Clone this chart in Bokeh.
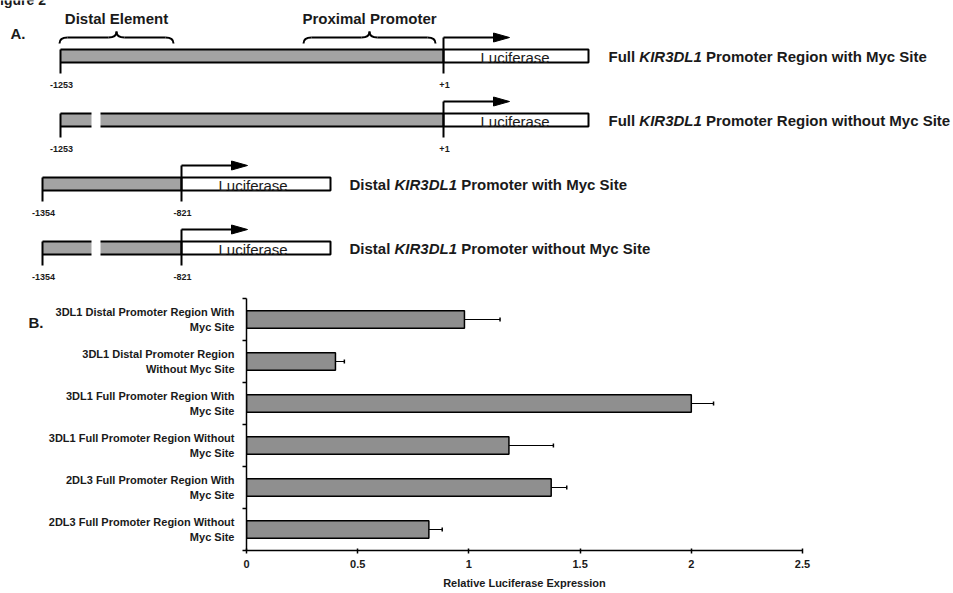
from bokeh.plotting import figure
from bokeh.models import (Range1d, FixedTicker, Whisker, TeeHead, ColumnDataSource,
                          LinearAxis)
from bokeh.embed import file_html
from bokeh.resources import INLINE
from bokeh.core.properties import value

# ---------------- Panel B data: luciferase reporter assay ----------------
categories = [
    "3DL1 Distal Promoter Region With\nMyc Site",
    "3DL1 Distal Promoter Region\nWithout Myc Site",
    "3DL1 Full Promoter Region With\nMyc Site",
    "3DL1 Full Promoter Region Without\nMyc Site",
    "2DL3 Full Promoter Region With\nMyc Site",
    "2DL3 Full Promoter Region Without\nMyc Site",
]
expression = [0.98, 0.40, 2.00, 1.18, 1.37, 0.82]
expression_err = [0.16, 0.04, 0.10, 0.20, 0.07, 0.06]
x_ticks = [0, 0.5, 1, 1.5, 2, 2.5]
x_tick_labels = ["0", "0.5", "1", "1.5", "2", "2.5"]

# ---------------- Panel A: promoter constructs ----------------
construct_prefix = ["Full", "Full", "Distal", "Distal"]
construct_gene = "KIR3DL1"
construct_suffix = [
    "Promoter Region with Myc Site",
    "Promoter Region without Myc Site",
    "Promoter with Myc Site",
    "Promoter without Myc Site",
]
start_labels = ["-1253", "-1253", "-1354", "-1354"]
end_labels = ["+1", "+1", "-821", "-821"]
has_myc_site = [True, False, True, False]
region_names = ["Distal Element", "Proximal Promoter"]

FONT = "Liberation Sans"
INK = "#1a1a1a"
GRAY_A = "#a3a3a3"
GRAY_B = "#8f8f8f"

# Arial/Liberation Sans Bold advance widths (per 1000 em) for label layout
BOLD_W = {" ": 278, "F": 611, "u": 611, "l": 278, "D": 722, "i": 278, "s": 556,
          "t": 333, "a": 556, "K": 722, "I": 278, "R": 722, "3": 556, "L": 611,
          "1": 556}


def bold_width(s, size):
    return sum(BOLD_W[c] for c in s) / 1000.0 * size


# ---------------- Panel A drawing (pixel layout) ----------------
W, HA = 953, 285
pa = figure(width=W, height=HA, x_range=Range1d(0, W), y_range=Range1d(HA, 0),
            output_backend="svg", toolbar_location=None, min_border=0,
            x_axis_location=None, y_axis_location=None, outline_line_color=None)
pa.grid.visible = False

row_top = [49, 113, 177, 241]
bar_h = 13
promoter_left = [60, 60, 42, 42]
tss_x = [443, 443, 181, 181]
box_w = [145, 145, 149, 149]
label_x = [608, 608, 349, 349]
gap_span = (91, 100)
lw = 2

row_bot = [t + bar_h for t in row_top]
tick_bot = [b + 11 for b in row_bot]
arrow_y = [t - 12 for t in row_top]

# grey promoter region
pa.quad(left=promoter_left, right=tss_x, top=row_top, bottom=row_bot,
        fill_color=GRAY_A, line_color=None)
pa.segment(x0=promoter_left, y0=row_top, x1=tss_x, y1=row_top, line_color="black", line_width=lw)
pa.segment(x0=promoter_left, y0=row_bot, x1=tss_x, y1=row_bot, line_color="black", line_width=lw)

# deleted Myc site
gap_rows = [i for i, m in enumerate(has_myc_site) if not m]
pa.quad(left=[gap_span[0]] * len(gap_rows), right=[gap_span[1]] * len(gap_rows),
        top=[row_top[i] - 2 for i in gap_rows], bottom=[row_bot[i] + 2 for i in gap_rows],
        fill_color="white", line_color=None)

# luciferase reporter box
pa.quad(left=tss_x, right=[x + w for x, w in zip(tss_x, box_w)], top=row_top, bottom=row_bot,
        fill_color="white", line_color="black", line_width=lw)
pa.text(x=[x + 37 for x in tss_x], y=[b - 5 for b in row_bot], text=["Luciferase"] * 4,
        text_font=value(FONT), text_font_size="15px", text_color=INK,
        text_align="left", text_baseline="middle")

# start tick and transcription start arrow
pa.segment(x0=promoter_left, y0=row_top, x1=promoter_left, y1=tick_bot, line_color="black", line_width=lw)
pa.segment(x0=tss_x, y0=arrow_y, x1=tss_x, y1=tick_bot, line_color="black", line_width=lw)
pa.segment(x0=tss_x, y0=arrow_y, x1=[x + 52 for x in tss_x], y1=arrow_y, line_color="black", line_width=lw)
pa.patches(xs=[[x + 50, x + 50, x + 66] for x in tss_x],
           ys=[[y - 4.5, y + 4.5, y] for y in arrow_y],
           fill_color="black", line_color="black", line_width=1)

# coordinate labels
pa.text(x=[x + 1 for x in promoter_left], y=[b + 11 for b in tick_bot], text=start_labels,
        text_font=value(FONT), text_font_style="bold", text_font_size="9px", text_color=INK,
        text_align="center", text_baseline="middle")
pa.text(x=[x + 1 for x in tss_x], y=[b + 11 for b in tick_bot], text=end_labels,
        text_font=value(FONT), text_font_style="bold", text_font_size="9px", text_color=INK,
        text_align="center", text_baseline="middle")

# construct names with italic gene symbol
fs = 15
mid_y = [t + bar_h / 2 + 0.5 for t in row_top]
gene_x = [x + bold_width(p + " ", fs) for x, p in zip(label_x, construct_prefix)]
rest_x = [g + bold_width(construct_gene + " ", fs) for g in gene_x]
pa.text(x=label_x, y=mid_y, text=construct_prefix, text_font=value(FONT), text_font_style="bold",
        text_font_size=f"{fs}px", text_color=INK, text_baseline="middle")
pa.text(x=gene_x, y=mid_y, text=[construct_gene] * 4, text_font=value(FONT),
        text_font_style="bold italic", text_font_size=f"{fs}px", text_color=INK, text_baseline="middle")
pa.text(x=rest_x, y=mid_y, text=construct_suffix, text_font=value(FONT), text_font_style="bold",
        text_font_size=f"{fs}px", text_color=INK, text_baseline="middle")

# braces marking the two regulatory regions
brace_span = [(59, 173), (303, 435)]
yb, ym, yt, r = 43, 37, 31, 8
qx0, qy0, qx1, qy1, qcx, qcy = [], [], [], [], [], []
lx0, lx1, ly = [], [], []
for x0, x1 in brace_span:
    xc = (x0 + x1) / 2
    for a, b, c in [((x0, yb), (x0 + r, ym), (x0, ym)),
                    ((xc - r, ym), (xc, yt), (xc, ym)),
                    ((xc, yt), (xc + r, ym), (xc, ym)),
                    ((x1 - r, ym), (x1, yb), (x1, ym))]:
        qx0.append(a[0]); qy0.append(a[1]); qx1.append(b[0]); qy1.append(b[1])
        qcx.append(c[0]); qcy.append(c[1])
    lx0 += [x0 + r, xc + r]; lx1 += [xc - r, x1 - r]; ly += [ym, ym]
pa.quadratic(x0=qx0, y0=qy0, x1=qx1, y1=qy1, cx=qcx, cy=qcy, line_color="black", line_width=lw)
pa.segment(x0=lx0, y0=ly, x1=lx1, y1=ly, line_color="black", line_width=lw)
pa.text(x=[(a + b) / 2 for a, b in brace_span], y=[18, 18], text=region_names,
        text_font=value(FONT), text_font_style="bold", text_font_size="15px", text_color=INK,
        text_align="center", text_baseline="middle")

pa.text(x=[10], y=[33], text=["A."], text_font=value(FONT), text_font_style="bold",
        text_font_size="15px", text_color=INK, text_baseline="middle")
pa.text(x=[-9], y=[-1], text=["Figure 2"], text_font=value(FONT), text_font_style="bold",
        text_font_size="14px", text_color=INK, text_baseline="middle")

# ---------------- Panel B drawing ----------------
n = len(categories)
ys = [i + 0.5 for i in range(n)]
src = ColumnDataSource(dict(y=ys, x=expression,
                            upper=[v + e for v, e in zip(expression, expression_err)]))

pb = figure(width=W, height=593 - HA, x_range=Range1d(0, 2.5), y_range=Range1d(n, 0),
            output_backend="svg", toolbar_location=None,
            min_border_left=246, min_border_right=151, min_border_top=13, min_border_bottom=43,
            outline_line_color=None)
pb.grid.visible = False

pb.hbar(y="y", left=0, right="x", height=0.42, source=src,
        fill_color=GRAY_B, line_color="black", line_width=1.5)
pb.add_layout(Whisker(source=src, base="y", lower="x", upper="upper", dimension="width",
                      line_color="black", line_width=1,
                      upper_head=TeeHead(size=4, line_color="black", line_width=1.5),
                      lower_head=None))

xa = pb.xaxis[0]
xa.ticker = FixedTicker(ticks=x_ticks)
xa.major_label_overrides = {t: s for t, s in zip(x_ticks, x_tick_labels)}
xa.axis_label = "Relative Luciferase Expression"
xa.axis_label_text_font = FONT
xa.axis_label_text_font_style = "bold"
xa.axis_label_text_font_size = "11px"
xa.axis_label_text_color = INK
xa.axis_label_standoff = 6
xa.major_label_text_font = FONT
xa.major_label_text_font_style = "bold"
xa.major_label_text_font_size = "11px"
xa.major_label_text_color = INK
xa.major_label_standoff = 6
xa.axis_line_width = 1.5
xa.major_tick_out = 3
xa.major_tick_in = 2
xa.major_tick_line_width = 1.5
xa.minor_tick_line_color = None

ya = pb.yaxis[0]
ya.ticker = FixedTicker(ticks=ys, minor_ticks=list(range(n + 1)))
ya.major_label_overrides = {y: c for y, c in zip(ys, categories)}
ya.major_label_text_font = FONT
ya.major_label_text_font_style = "bold"
ya.major_label_text_font_size = "11px"
ya.major_label_text_color = INK
ya.major_label_standoff = 8
ya.major_tick_line_color = None
ya.major_tick_out = 0
ya.major_tick_in = 0
ya.minor_tick_out = 4
ya.minor_tick_in = 0
ya.minor_tick_line_width = 1.5
ya.axis_line_width = 1.5

# panel letter, set beside the category labels
panel_b_pos = 0.57
letter_axis = LinearAxis(ticker=FixedTicker(ticks=[panel_b_pos]),
                         major_label_overrides={panel_b_pos: "B."},
                         axis_line_color=None, major_tick_line_color=None,
                         minor_tick_line_color=None, major_tick_out=0, major_tick_in=0,
                         major_label_standoff=2, major_label_text_font=FONT,
                         major_label_text_font_style="bold", major_label_text_font_size="15px",
                         major_label_text_color=INK)
pb.add_layout(letter_axis, "left")

open("out.html", "w").write(file_html([pa, pb], INLINE))
